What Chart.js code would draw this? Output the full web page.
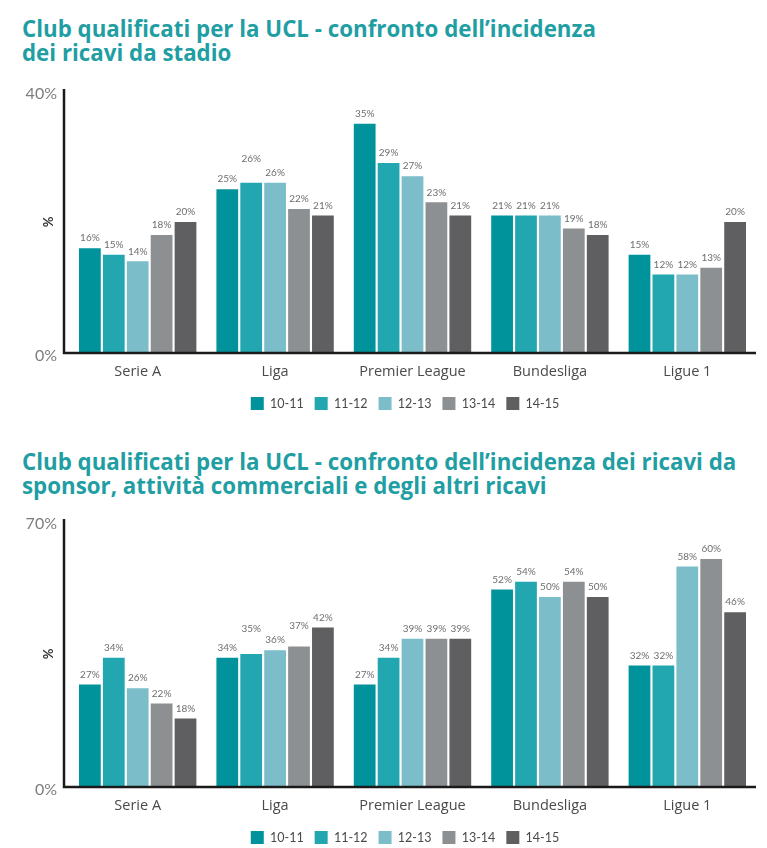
<!DOCTYPE html>
<html lang="it">
<head>
    <meta charset="utf-8">
    <title>Club qualificati UCL - ricavi</title>
    <script src="https://cdn.jsdelivr.net/npm/chart.js"></script>
    <style>
        body {
            margin: 0;
            background: #fff;
            width: 767px;
            height: 848px;
            position: relative;
            overflow: hidden;
        }

        .chart_taital {
            position: absolute;
            left: 22px;
            font: bold 22.3px/24px "Open Sans", sans-serif;
            color: #1f9ea3;
            white-space: nowrap;
        }

        .chart_box {
            position: absolute;
            left: 0;
            width: 767px;
        }
    </style>
</head>

<body>
    <div class="chart_taital" style="top:17px">Club qualificati per la UCL - confronto dell’incidenza<br>dei ricavi da stadio</div>
    <div class="chart_box" style="top:80px; height:340px"><canvas id="stadioChart"></canvas></div>

    <div class="chart_taital" style="top:450px">Club qualificati per la UCL - confronto dell’incidenza dei ricavi da<br>sponsor, attività commerciali e degli altri ricavi</div>
    <div class="chart_box" style="top:502px; height:352px"><canvas id="sponsorChart"></canvas></div>

    <script>
        // data
        const leagues = ['Serie A', 'Liga', 'Premier League', 'Bundesliga', 'Ligue 1'];
        const seasons = ['10-11', '11-12', '12-13', '13-14', '14-15'];
        const seasonColors = ['#00939b', '#22a7b0', '#7bbdc9', '#8d9093', '#5f5f61'];

        // ricavi da stadio (%)
        const stadio1011 = [16, 25, 35, 21, 15];
        const stadio1112 = [15, 26, 29, 21, 12];
        const stadio1213 = [14, 26, 27, 21, 12];
        const stadio1314 = [18, 22, 23, 19, 13];
        const stadio1415 = [20, 21, 21, 18, 20];
        const stadioTicks = [0, 40];

        // sponsor, attivita commerciali e altri ricavi (%)
        const sponsor1011 = [27, 34, 27, 52, 32];
        const sponsor1112 = [34, 35, 34, 54, 32];
        const sponsor1213 = [26, 36, 39, 50, 58];
        const sponsor1314 = [22, 37, 39, 54, 60];
        const sponsor1415 = [18, 42, 39, 50, 46];
        const sponsorTicks = [0, 70];

        // value labels over the bars
        const barLabels = {
            id: 'barLabels',
            afterDatasetsDraw(chart, args, opts) {
                const ctx = chart.ctx;
                const lifts = opts.lifts || [];
                ctx.save();
                ctx.font = '10px Lato, sans-serif';
                ctx.fillStyle = '#6d6e70';
                ctx.textAlign = 'center';
                ctx.textBaseline = 'middle';
                chart.data.datasets.forEach((ds, di) => {
                    chart.getDatasetMeta(di).data.forEach((bar, i) => {
                        const lift = lifts.find(l => l[0] === di && l[1] === i);
                        ctx.fillText(ds.data[i] + '%', bar.x, bar.y - 10 - (lift ? lift[2] : 0));
                    });
                });
                ctx.restore();
            }
        };

        // black axis lines and the "%" axis title; legend centred under the plot
        const axisLines = {
            id: 'axisLines',
            afterLayout(chart) {
                chart.legend.left = 54;
            },
            afterDraw(chart) {
                const ctx = chart.ctx;
                const a = chart.chartArea;
                ctx.save();
                ctx.strokeStyle = '#1a1a1a';
                ctx.lineWidth = 2.5;
                ctx.beginPath();
                ctx.moveTo(a.left - 5, a.top - 2);
                ctx.lineTo(a.left - 5, a.bottom);
                ctx.lineTo(a.right, a.bottom);
                ctx.stroke();

                ctx.translate(a.left - 20, (a.top + a.bottom) / 2);
                ctx.rotate(-Math.PI / 2);
                ctx.font = 'bold 13px Lato, sans-serif';
                ctx.fillStyle = '#333';
                ctx.textAlign = 'center';
                ctx.textBaseline = 'middle';
                ctx.fillText('%', 0, 0);
                ctx.restore();
            }
        };

        function makeChart(id, series, yTicks, topPad, lifts) {
            return new Chart(document.getElementById(id), {
                type: 'bar',
                data: {
                    labels: leagues,
                    datasets: seasons.map((s, i) => ({
                        label: s,
                        data: series[i],
                        backgroundColor: seasonColors[i],
                        borderWidth: 0,
                        barPercentage: 0.91,
                        categoryPercentage: 0.87
                    }))
                },
                options: {
                    responsive: true,
                    maintainAspectRatio: false,
                    animation: false,
                    layout: {
                        padding: { top: topPad, right: 11, bottom: 0, left: 0 }
                    },
                    scales: {
                        x: {
                            grid: { display: false, drawTicks: false },
                            border: { display: false },
                            ticks: {
                                padding: 10,
                                color: '#4a4a4a',
                                font: { family: 'Open Sans', size: 14.5 }
                            },
                            afterFit(scale) { scale.height = 33; }
                        },
                        y: {
                            min: yTicks[0],
                            max: yTicks[yTicks.length - 1],
                            grid: { display: false, drawTicks: false },
                            border: { display: false },
                            afterBuildTicks(scale) {
                                scale.ticks = yTicks.map(v => ({ value: v }));
                            },
                            afterFit(scale) {
                                scale.width = 69;
                                scale.paddingTop = 0;
                                scale.paddingBottom = 0;
                            },
                            ticks: {
                                padding: 12,
                                labelOffset: 3,
                                color: '#7d7d7d',
                                font: { family: 'Lato', size: 16 },
                                callback: v => v + '%'
                            }
                        }
                    },
                    plugins: {
                        legend: {
                            position: 'bottom',
                            labels: {
                                boxWidth: 13,
                                boxHeight: 13,
                                padding: 11,
                                color: '#4a4a4a',
                                font: { family: 'Lato', size: 12.5 }
                            }
                        },
                        tooltip: { enabled: false },
                        barLabels: { lifts: lifts }
                    }
                },
                plugins: [barLabels, axisLines]
            });
        }

        makeChart('stadioChart',
            [stadio1011, stadio1112, stadio1213, stadio1314, stadio1415],
            stadioTicks, 11, [[1, 1, 14]]);

        makeChart('sponsorChart',
            [sponsor1011, sponsor1112, sponsor1213, sponsor1314, sponsor1415],
            sponsorTicks, 19, [[1, 1, 15], [3, 1, 11]]);
    </script>
</body>

</html>
